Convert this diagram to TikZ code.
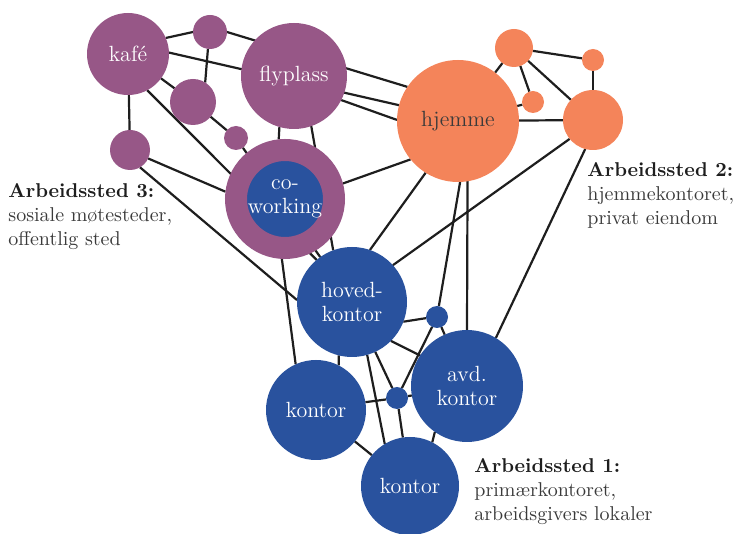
\documentclass[tikz,border=0pt]{standalone}
\usepackage{fontspec}
\usepackage{tikz}
\usetikzlibrary{backgrounds}
\definecolor{lilla}{HTML}{975787}
\definecolor{oransje}{HTML}{F4845A}
\definecolor{blaa}{HTML}{29529E}
\definecolor{strek}{HTML}{1E1E1E}
\definecolor{tekstgraa}{HTML}{3A3A3A}

\begin{document}
\begin{tikzpicture}[x=0.5pt, y=-0.5pt,
    sted/.style={circle, inner sep=0pt, outer sep=0pt, align=center, text=white,
        font=\fontsize{11}{12.2}\selectfont},
    kant/.style={line width=1.1pt, draw=strek},
    tekst/.style={align=left, inner sep=0pt, text=tekstgraa, anchor=north west,
        font=\fontsize{10}{12}\selectfont}
]
    \useasboundingbox (0,0) rectangle (740,534);

    % Arbeidssted 3
    \node [sted, fill=lilla,
        minimum size=41pt
    ] (Kafe) at (128,54) {kafé};
    \node [sted, fill=lilla,
        minimum size=17pt
    ] (Sosial1) at (210,32) {};
    \node [sted, fill=lilla,
        minimum size=23pt
    ] (Sosial2) at (193,102) {};
    \node [sted, fill=lilla,
        minimum size=12pt
    ] (Sosial3) at (236,138) {};
    \node [sted, fill=lilla,
        minimum size=20pt
    ] (Sosial4) at (130,150) {};
    \node [sted, fill=lilla,
        minimum size=53pt
    ] (Flyplass) at (294,76) {flyplass};
    \node [sted, fill=blaa,
        draw=lilla,
        line width=11pt,
        outer sep=5.5pt,
        minimum size=49pt
    ] (Coworking) at (285,199) {co-\\working};

    % Arbeidssted 2
    \node [sted, fill=oransje,
        text=tekstgraa,
        minimum size=61pt
    ] (Hjemme) at (458,121) {hjemme};
    \node [sted, fill=oransje,
        minimum size=19pt
    ] (Privat1) at (514,48) {};
    \node [sted, fill=oransje,
        minimum size=11pt
    ] (Privat2) at (593,60) {};
    \node [sted, fill=oransje,
        minimum size=11pt
    ] (Privat3) at (533,102) {};
    \node [sted, fill=oransje,
        minimum size=30pt
    ] (Privat4) at (593,120) {};

    % Arbeidssted 1
    \node [sted, fill=blaa,
        minimum size=55pt
    ] (Hovedkontor) at (352,302) {hoved-\\kontor};
    \node [sted, fill=blaa,
        minimum size=11pt
    ] (Punkt1) at (437,317) {};
    \node [sted, fill=blaa,
        minimum size=56pt
    ] (Avdkontor) at (467,386) {avd.\\kontor};
    \node [sted, fill=blaa,
        minimum size=50pt
    ] (Kontor1) at (316,410) {kontor};
    \node [sted, fill=blaa,
        minimum size=11pt
    ] (Punkt2) at (397,398) {};
    \node [sted, fill=blaa,
        minimum size=49pt
    ] (Kontor2) at (410,486) {kontor};

    % Forklaringer
    \node [tekst] (Tekst3) at (8,183)
        {\textbf{\color{strek}Arbeidssted 3:}\\sosiale møtesteder,\\offentlig sted};
    \node [tekst] (Tekst2) at (587,162)
        {\textbf{\color{strek}Arbeidssted 2:}\\hjemmekontoret,\\privat eiendom};
    \node [tekst] (Tekst1) at (474,458)
        {\textbf{\color{strek}Arbeidssted 1:}\\primærkontoret,\\arbeidsgivers lokaler};

    % Forbindelser
    \begin{pgfonlayer}{background}
    \draw[kant] (Kafe.23) -- (Sosial1.180);
    \draw[kant] (Sosial1.0) -- (Hjemme.146);
    \draw[kant] (Kafe.2) -- (Hjemme.165);
    \draw[kant] (Sosial1.-97) -- (Sosial2.58);
    \draw[kant] (Kafe) -- (Sosial2);
    \draw[kant] (Kafe.-62) -- (Hovedkontor.130);
    \draw[kant] (Sosial2) -- (Sosial3);
    \draw[kant] (Sosial3) -- (Hovedkontor);
    \draw[kant] (Kafe) -- (Sosial4);
    \draw[kant] (Sosial4.-25) -- (Coworking.173);
    \draw[kant] (Sosial4.-60) -- (Hovedkontor.178);
    \draw[kant] (Flyplass.-106) -- (Coworking.96);
    \draw[kant] (Flyplass.-71) -- (Hovedkontor.110);
    \draw[kant] (Flyplass.-27) -- (Hjemme.179);
    \draw[kant] (Coworking.15) -- (Hjemme.-141);
    \draw[kant] (Coworking.-93) -- (Kontor1.114);
    \draw[kant] (Hjemme.-122) -- (Hovedkontor.71);
    \draw[kant] (Hjemme.-88) -- (Punkt1);
    \draw[kant] (Hjemme.-81) -- (Avdkontor.90);
    \draw[kant] (Privat4.-141) -- (Hovedkontor.42);
    \draw[kant] (Privat4.-105) -- (Avdkontor.59);
    \draw[kant] (Hjemme) -- (Privat1);
    \draw[kant] (Privat1) -- (Privat3);
    \draw[kant] (Privat1) -- (Privat4);
    \draw[kant] (Privat1) -- (Privat2);
    \draw[kant] (Privat2) -- (Privat4);
    \draw[kant] (Hjemme) -- (Privat3);
    \draw[kant] (Hjemme) -- (Privat4);
    \draw[kant] (Hovedkontor.-21) -- (Punkt1.-174);
    \draw[kant] (Punkt1) -- (Avdkontor);
    \draw[kant] (Punkt1) -- (Punkt2);
    \draw[kant] (Hovedkontor.-45) -- (Avdkontor.147);
    \draw[kant] (Hovedkontor.-74) -- (Kontor2.121);
    \draw[kant] (Hovedkontor.-65) -- (Punkt2);
    \draw[kant] (Hovedkontor.-104) -- (Kontor1.63);
    \draw[kant] (Kontor1.9) -- (Punkt2);
    \draw[kant] (Punkt2) -- (Kontor2);
    \draw[kant] (Punkt2) -- (Avdkontor);
    \draw[kant] (Kontor1) -- (Kontor2);
    \draw[kant] (Avdkontor.-125) -- (Kontor2.63);
    \end{pgfonlayer}
\end{tikzpicture}
\end{document}
